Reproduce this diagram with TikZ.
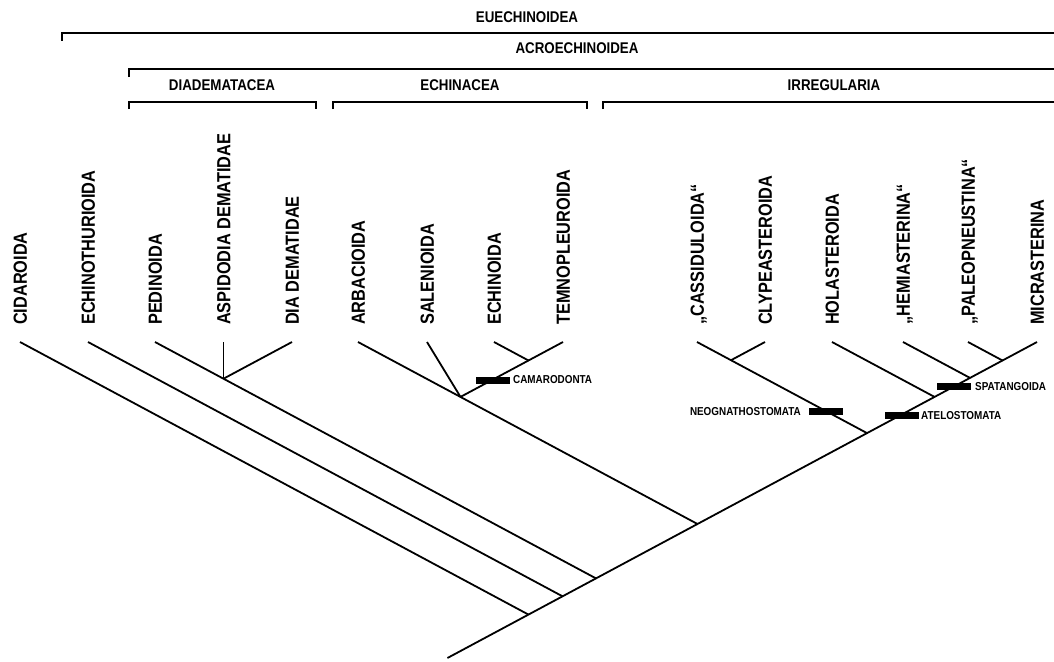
\documentclass[tikz,border=0pt]{standalone}
\usepackage{fontspec}
\newfontfamily\labf{Liberation Sans}[FakeStretch=0.86, UprightFont=* Bold, BoldFont=* Bold]
\usetikzlibrary{calc}
\begin{document}
\begin{tikzpicture}[x=1pt,y=-1pt,
  branch/.style={draw=black, line width=1.8pt},
  brack/.style={draw=black, line width=1.5pt},
  taxon/.style={rotate=90, anchor=base west, inner sep=0pt, font=\labf\fontsize{19}{19}\selectfont},
  clade/.style={inner sep=0pt, font=\labf\fontsize{15.5}{16}\selectfont},
  apo/.style={fill=black, minimum width=34pt, minimum height=7pt, inner sep=0pt},
  apolab/.style={inner sep=0pt, font=\labf\fontsize{11.5}{12}\selectfont}]
\useasboundingbox (0,0) rectangle (1054,661);
% tips
\coordinate (tCid) at (20,342);
\coordinate (tEch) at (88,342);
\coordinate (tPed) at (155,342);
\coordinate (tAsp) at (223.5,342);
\coordinate (tDia) at (292,342);
\coordinate (tArb) at (358,342);
\coordinate (tSal) at (427,342);
\coordinate (tEchi) at (494,342);
\coordinate (tTem) at (563,342);
\coordinate (tCas) at (697,342);
\coordinate (tCly) at (765,342);
\coordinate (tHol) at (832,342);
\coordinate (tHem) at (903,342);
\coordinate (tPal) at (968,342);
\coordinate (tMic) at (1037,342);
% junctions
\coordinate (jAsp) at (223.5,378.7);
\coordinate (jCam) at (528.5,360.5);
\coordinate (jSal) at (460.5,396.9);
\coordinate (jCly) at (731,360.2);
\coordinate (jPal) at (1002.5,360.5);
\coordinate (jHem) at (970,377.9);
\coordinate (jHol) at (934.5,396.9);
\coordinate (jIrr) at (867,433.1);
\coordinate (jArb) at (697.5,524.0);
\coordinate (jPed) at (596,578.4);
\coordinate (jEch) at (562.5,596.3);
\coordinate (jCid) at (528.5,614.6);
\coordinate (root) at (447.45,658);
% labels
\node[taxon] (lCid) at ($(tCid)+(6.8,-17)$) {CIDAROIDA};
\node[taxon] (lEch) at ($(tEch)+(6.8,-17)$) {ECHINOTHURIOIDA};
\node[taxon] (lPed) at ($(tPed)+(6.8,-17)$) {PEDINOIDA};
\node[taxon] (lAsp) at ($(tAsp)+(6.8,-17)$) {ASPIDODIA DEMATIDAE};
\node[taxon] (lDia) at ($(tDia)+(6.8,-17)$) {DIA DEMATIDAE};
\node[taxon] (lArb) at ($(tArb)+(6.8,-17)$) {ARBACIOIDA};
\node[taxon] (lSal) at ($(tSal)+(6.8,-17)$) {SALENIOIDA};
\node[taxon] (lEchi) at ($(tEchi)+(6.8,-17)$) {ECHINOIDA};
\node[taxon] (lTem) at ($(tTem)+(6.8,-17)$) {TEMNOPLEUROIDA};
\node[taxon] (lCas) at ($(tCas)+(6.8,-17)$) {„CASSIDULOIDA“};
\node[taxon] (lCly) at ($(tCly)+(6.8,-17)$) {CLYPEASTEROIDA};
\node[taxon] (lHol) at ($(tHol)+(6.8,-17)$) {HOLASTEROIDA};
\node[taxon] (lHem) at ($(tHem)+(6.8,-17)$) {„HEMIASTERINA“};
\node[taxon] (lPal) at ($(tPal)+(6.8,-17)$) {„PALEOPNEUSTINA“};
\node[taxon] (lMic) at ($(tMic)+(6.8,-17)$) {MICRASTERINA};
% branches
\draw[branch] (root) -- (tMic);
\draw[branch] (tCid) -- (jCid);
\draw[branch] (tEch) -- (jEch);
\draw[branch] (tPed) -- (jPed);
\draw[branch] (tAsp) -- (jAsp);
\draw[branch] (tDia) -- (jAsp);
\draw[branch] (tArb) -- (jArb);
\draw[branch] (tSal) -- (jSal);
\draw[branch] (tTem) -- (jSal);
\draw[branch] (tEchi) -- (jCam);
\draw[branch] (tCas) -- (jIrr);
\draw[branch] (tCly) -- (jCly);
\draw[branch] (tHol) -- (jHol);
\draw[branch] (tHem) -- (jHem);
\draw[branch] (tPal) -- (jPal);
% apomorphy bars
\node[apo] (bCam) at (492.5,380) {};
\node[apolab, anchor=west] (aCam) at (513,380) {CAMARODONTA};
\node[apo] (bNeo) at (826,411.5) {};
\node[apolab, anchor=east] (aNeo) at (801,412) {NEOGNATHOSTOMATA};
\node[apo] (bAte) at (901.5,415.5) {};
\node[apolab, anchor=west] (aAte) at (921,416) {ATELOSTOMATA};
\node[apo] (bSpa) at (953.5,386.5) {};
\node[apolab, anchor=west] (aSpa) at (975,387) {SPATANGOIDA};
% clade brackets
\node[clade] (cEue) at (527,17) {EUECHINOIDEA};
\coordinate (eA) at (62,41); \coordinate (eB) at (62,33); \coordinate (eC) at (1054,33);
\draw[brack] (eA) -- (eB) -- (eC);
\node[clade] (cAcr) at (577,48) {ACROECHINOIDEA};
\coordinate (aA) at (129,77); \coordinate (aB) at (129,69); \coordinate (aC) at (1054,69);
\draw[brack] (aA) -- (aB) -- (aC);
\node[clade] (cDia) at (222,85) {DIADEMATACEA};
\coordinate (dA) at (129,109); \coordinate (dB) at (129,102); \coordinate (dC) at (316,102); \coordinate (dD) at (316,109);
\draw[brack] (dA) -- (dB) -- (dC) -- (dD);
\node[clade] (cEch) at (460,85) {ECHINACEA};
\coordinate (hA) at (333,109); \coordinate (hB) at (333,102); \coordinate (hC) at (587,102); \coordinate (hD) at (587,109);
\draw[brack] (hA) -- (hB) -- (hC) -- (hD);
\node[clade] (cIrr) at (834,85) {IRREGULARIA};
\coordinate (iA) at (603,109); \coordinate (iB) at (603,102); \coordinate (iC) at (1054,102);
\draw[brack] (iA) -- (iB) -- (iC);
\end{tikzpicture}
\end{document}
